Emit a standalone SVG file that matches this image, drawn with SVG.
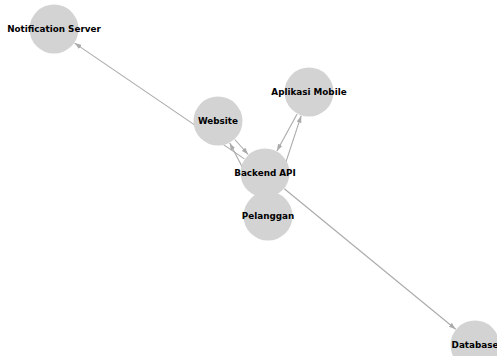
<svg xmlns="http://www.w3.org/2000/svg" width="497" height="356" viewBox="0 0 497 356">
<style>
.edge{stroke:#aaaaaa;stroke-width:1.1;fill:none;marker-end:url(#arr)}
.node circle{fill:#d3d3d3}
.node text{font-family:"DejaVu Sans",sans-serif;font-weight:bold;font-size:8.8px;fill:#000;text-anchor:middle;dominant-baseline:central}
</style>
<defs>
<marker id="arr" markerUnits="userSpaceOnUse" markerWidth="8" markerHeight="6" refX="7" refY="3" orient="auto">
<path d="M0,0.6 L7,3 L0,5.4 Z" fill="#aaaaaa"/>
</marker>
</defs>
<rect width="497" height="356" fill="#ffffff"/>
<g id="edges">
<line class="edge" x1="244.4" y1="158.9" x2="74.6" y2="43.1"/>
<line class="edge" x1="284.3" y1="188.8" x2="455.7" y2="329.2"/>
<line class="edge" x1="234.8" y1="139.5" x2="248.2" y2="154.5"/>
<line class="edge" x1="256.4" y1="193.9" x2="229.7" y2="143.1"/>
<line class="edge" x1="297.1" y1="114" x2="276.9" y2="151"/>
<line class="edge" x1="275.9" y1="192.3" x2="301.2" y2="115.7"/>
</g>
<g id="node-notification" class="node"><circle cx="54" cy="29" r="24.5"/><text x="54" y="29">Notification Server</text></g>
<g id="node-website" class="node"><circle cx="218" cy="121" r="24.5"/><text x="218" y="121">Website</text></g>
<g id="node-mobile" class="node"><circle cx="309" cy="92" r="24.5"/><text x="309" y="92">Aplikasi Mobile</text></g>
<g id="node-backend" class="node"><circle cx="265" cy="173" r="24.5"/><text x="265" y="173">Backend API</text></g>
<g id="node-pelanggan" class="node"><circle cx="268" cy="216" r="24.5"/><text x="268" y="216">Pelanggan</text></g>
<g id="node-database" class="node"><circle cx="475" cy="345" r="24.5"/><text x="475" y="345">Database</text></g>
</svg>
